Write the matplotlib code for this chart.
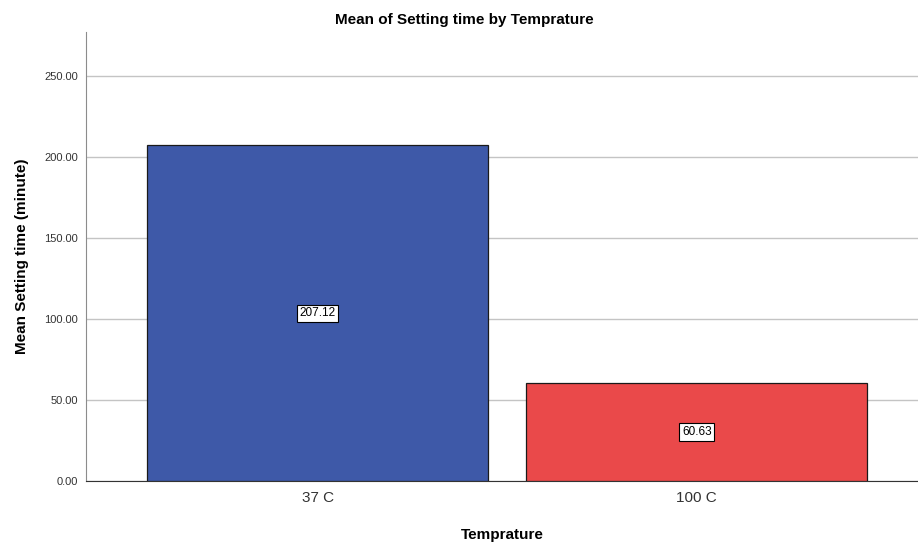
import matplotlib.pyplot as plt
import matplotlib.ticker as mticker

# --- Data ---
categories = ['37 C', '100 C']
means = [207.12, 60.63]
bar_colors = ['#3e59a8', '#ea494a']
y_ticks = [0, 50, 100, 150, 200, 250]

plt.rcParams['font.family'] = ['Liberation Sans', 'DejaVu Sans']

fig = plt.figure(figsize=(9.18, 5.46), dpi=100)
ax = fig.add_axes([0.094, 0.119, 0.906, 0.822])

x = list(range(len(categories)))
bars = ax.bar(x, means, width=0.9, color=bar_colors, edgecolor='#1a1a1a',
              linewidth=0.9, zorder=3)

# value labels in the middle of each bar
for xi, m in zip(x, means):
    ax.text(xi, m / 2, f'{m:.2f}', ha='center', va='center', fontsize=8.5,
            color='black', zorder=4,
            bbox=dict(boxstyle='square,pad=0.22', facecolor='white',
                      edgecolor='black', linewidth=0.8))

ax.set_xlim(-0.611, 1.584)
ax.set_ylim(0, 277)
ax.set_yticks(y_ticks)
ax.yaxis.set_major_formatter(mticker.FormatStrFormatter('%.2f'))
ax.set_xticks(x)
ax.set_xticklabels(categories, fontsize=11, color='#333333')
ax.tick_params(axis='y', length=0, labelsize=8, colors='#333333', pad=6)
ax.tick_params(axis='x', length=0, pad=7)

ax.grid(axis='y', color='#c4c4c4', linewidth=1.0, zorder=0)
ax.spines['top'].set_visible(False)
ax.spines['right'].set_visible(False)
ax.spines['left'].set_color('#8c8c8c')
ax.spines['bottom'].set_color('#333333')

ax.set_ylabel('Mean Setting time (minute)', fontsize=11, fontweight='bold', labelpad=11)
ax.set_xlabel('Temprature', fontsize=11, fontweight='bold', labelpad=17)
fig.text(0.506, 0.963, 'Mean of Setting time by Temprature', ha='center', va='center',
         fontsize=11, fontweight='bold')

fig.savefig('out.png', dpi=100)
